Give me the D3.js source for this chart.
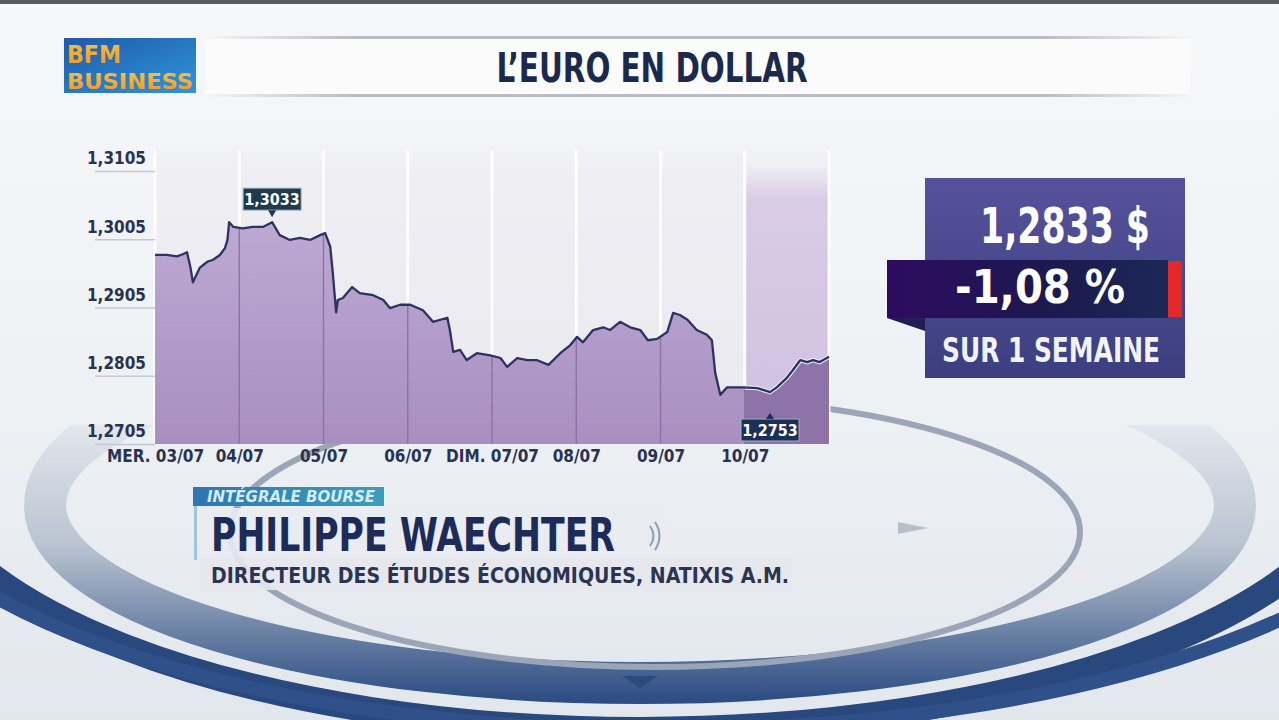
<!DOCTYPE html>
<html>
<head>
<meta charset="utf-8">
<script src="https://cdn.jsdelivr.net/npm/d3@7"></script>
<style>
body { margin: 0; background: #eef0f3; overflow: hidden; }
svg { display: block; }
.cond { font-family: "Liberation Sans Narrow", "DejaVu Sans Condensed", "Roboto Condensed", "Arial Narrow", Roboto, sans-serif; font-weight: bold; }
</style>
</head>
<body>
<div id="chart"></div>
<script>
var width = 1279,
    height = 720;

// EUR/USD over the week, position in days since Wed 03/07 00h
var dayPos = [0.00, 0.14, 0.26, 0.33, 0.38, 0.42, 0.45, 0.53, 0.58, 0.62, 0.69, 0.77, 0.83, 0.86, 0.88, 0.93,
  1.04, 1.16, 1.28, 1.39, 1.48, 1.60, 1.72, 1.84, 1.96, 2.02, 2.08, 2.11, 2.15, 2.17, 2.23, 2.34, 2.43,
  2.59, 2.71, 2.79, 2.91, 3.03, 3.18, 3.30, 3.47, 3.50, 3.54, 3.62, 3.70, 3.82, 3.98, 4.10, 4.18, 4.30,
  4.42, 4.53, 4.67, 4.81, 4.93, 5.01, 5.08, 5.20, 5.32, 5.40, 5.52, 5.64, 5.76, 5.85, 5.96, 6.08, 6.15,
  6.23, 6.32, 6.43, 6.55, 6.61, 6.65, 6.71, 6.79, 6.86, 6.98, 7.15, 7.30, 7.38, 7.50, 7.57, 7.66, 7.74,
  7.81, 7.89, 8.00];
var rate = [1.2982, 1.2982, 1.2980, 1.2983, 1.2986, 1.2964, 1.2942, 1.2963, 1.2968, 1.2972, 1.2975, 1.2982, 1.2992, 1.3004, 1.3030, 1.3023,
  1.3021, 1.3023, 1.3023, 1.3030, 1.3011, 1.3004, 1.3007, 1.3004, 1.3011, 1.3014, 1.2994, 1.2956, 1.2898, 1.2916, 1.2919, 1.2935, 1.2926,
  1.2923, 1.2916, 1.2904, 1.2909, 1.2909, 1.2901, 1.2884, 1.2890, 1.2872, 1.2840, 1.2843, 1.2828, 1.2838, 1.2835, 1.2831, 1.2818, 1.2831,
  1.2828, 1.2828, 1.2821, 1.2838, 1.2850, 1.2862, 1.2854, 1.2872, 1.2876, 1.2872, 1.2884, 1.2876, 1.2872, 1.2857, 1.2859, 1.2869, 1.2897,
  1.2894, 1.2887, 1.2872, 1.2865, 1.2857, 1.2809, 1.2777, 1.2788, 1.2788, 1.2788, 1.2787, 1.2781, 1.2788, 1.2802, 1.2813, 1.2828, 1.2825,
  1.2828, 1.2825, 1.2833];

var dayTicks = [0, 1, 2, 3, 4, 5, 6, 7];
var dayLabels = ["MER. 03/07", "04/07", "05/07", "06/07", "DIM. 07/07", "08/07", "09/07", "10/07"];
var rateTicks = [1.2705, 1.2805, 1.2905, 1.3005, 1.3105];

var highMark = [1.39, 1.3033];
var lowMark = [7.30, 1.2753];
var lastRate = 1.2833;
var weekChange = -1.08;

var fr = d3.formatLocale({decimal: ",", thousands: " ", grouping: [3], currency: ["", " $"], minus: "-"});
var fmt4 = fr.format(".4f");
var fmt2 = fr.format(".2f");

var svg = d3.select("#chart").append("svg")
    .attr("width", width)
    .attr("height", height);
var defs = svg.append("defs");

function grad(id, x2, y2, stops, user) {
  var g = defs.append("linearGradient").attr("id", id)
      .attr("x1", 0).attr("y1", 0).attr("x2", x2).attr("y2", y2);
  if (user) g.attr("gradientUnits", "userSpaceOnUse").attr("x1", user[0]).attr("y1", user[1]).attr("x2", user[2]).attr("y2", user[3]);
  stops.forEach(function(s) {
    g.append("stop").attr("offset", s[0]).attr("stop-color", s[1]).attr("stop-opacity", s[2] == null ? 1 : s[2]);
  });
}

grad("bgGrad", 0, 1, [[0, "#f6f7f9"], [0.55, "#eef1f4"], [1, "#e2e7ed"]]);
grad("ringGrad", 0, 1, [[0, "#e4e8ee"], [0.45, "#b9c3d1"], [1, "#2d4d84"]], [0, 420, 0, 700]);
grad("areaGrad", 0, 1, [[0, "#bda9d3"], [1, "#a88fc0"]], [0, 220, 0, 444]);
grad("bandGrad", 0, 1, [[0, "#dcd0e8", 0], [0.12, "#d9cce6"], [1, "#cfbfe0"]], [0, 165, 0, 444]);
grad("plotGrad", 0, 1, [[0, "#eeeef3", 0], [0.1, "#eeeef3"], [1, "#e9e9ef"]], [0, 140, 0, 444]);
grad("logoGrad", 1, 1, [[0, "#1f5aa8"], [1, "#2f95dc"]]);
grad("logoText", 0, 1, [[0, "#f7c440"], [1, "#f0922a"]]);
grad("panelGrad", 0, 1, [[0, "#55529b"], [1, "#3b3f7f"]]);
grad("stripGrad", 1, 0, [[0, "#2e0b60"], [0.6, "#1b1a4e"], [1, "#1c2858"]]);
grad("tagGrad", 1, 0, [[0, "#2c76b2"], [1, "#3c9fb8"]]);
grad("shadowLine", 1, 0, [[0, "#b9bcc2", 0], [0.15, "#b9bcc2"], [0.85, "#b9bcc2"], [1, "#b9bcc2", 0]]);

// background and decorative rings
svg.append("rect").attr("width", width).attr("height", height).attr("fill", "url(#bgGrad)");
svg.append("rect").attr("width", width).attr("height", 4).attr("fill", "#5a5c60");

defs.append("clipPath").attr("id", "lowClip").append("rect")
    .attr("x", 0).attr("y", 425).attr("width", width).attr("height", 300);
defs.append("clipPath").attr("id", "bottomClip").append("rect")
    .attr("x", 0).attr("y", 540).attr("width", width).attr("height", 200);

var deco = svg.append("g");
deco.append("ellipse").attr("clip-path", "url(#lowClip)")
    .attr("cx", 640).attr("cy", 505).attr("rx", 595).attr("ry", 178)
    .attr("fill", "none").attr("stroke", "url(#ringGrad)").attr("stroke-width", 42);
deco.append("ellipse")
    .attr("cx", 655).attr("cy", 532).attr("rx", 425).attr("ry", 135)
    .attr("fill", "none").attr("stroke", "#9aa6b8").attr("stroke-width", 6);
deco.append("ellipse").attr("clip-path", "url(#bottomClip)")
    .attr("cx", 640).attr("cy", 445).attr("rx", 730).attr("ry", 285)
    .attr("fill", "none").attr("stroke", "#29487e").attr("stroke-width", 26);
deco.append("ellipse").attr("clip-path", "url(#bottomClip)")
    .attr("cx", 660).attr("cy", 430).attr("rx", 800).attr("ry", 300)
    .attr("fill", "none").attr("stroke", "#2f5088").attr("stroke-width", 14);
deco.append("path")
    .attr("d", "M898,522 L928,528 L898,534 Z")
    .attr("fill", "#b7bfca");
deco.append("path")
    .attr("d", "M622,676 L658,676 L640,688 Z")
    .attr("fill", "#2b4a80");

// header
svg.append("rect").attr("x", 205).attr("y", 36).attr("width", 985).attr("height", 3).attr("fill", "url(#shadowLine)");
svg.append("rect").attr("x", 205).attr("y", 39).attr("width", 985).attr("height", 55).attr("fill", "#fbfbfc");
svg.append("rect").attr("x", 205).attr("y", 94).attr("width", 985).attr("height", 3).attr("fill", "url(#shadowLine)");
svg.append("text").attr("class", "cond")
    .attr("x", 652).attr("y", 82)
    .attr("text-anchor", "middle")
    .attr("font-size", 40)
    .attr("textLength", 311).attr("lengthAdjust", "spacingAndGlyphs")
    .attr("fill", "#1b2a4c")
    .text("L’EURO EN DOLLAR");

var logo = svg.append("g");
logo.append("rect").attr("x", 64).attr("y", 38).attr("width", 132).attr("height", 55).attr("fill", "url(#logoGrad)");
logo.append("text").attr("class", "cond").attr("x", 67).attr("y", 63)
    .attr("font-size", 25).attr("textLength", 54).attr("lengthAdjust", "spacingAndGlyphs")
    .attr("fill", "url(#logoText)").text("BFM");
logo.append("text").attr("class", "cond").attr("x", 67).attr("y", 89)
    .attr("font-size", 21).attr("textLength", 126).attr("lengthAdjust", "spacingAndGlyphs")
    .attr("fill", "url(#logoText)").text("BUSINESS");

// chart
var x = d3.scaleLinear().domain([0, 8]).range([155, 829]);
var y = d3.scaleLinear().domain([1.2705, 1.3105]).range([444, 171]);

var data = dayPos.map(function(d, i) { return {day: d, value: rate[i]}; });

var chart = svg.append("g");

chart.append("rect")
    .attr("x", x(0)).attr("y", 140)
    .attr("width", x(8) - x(0)).attr("height", y(1.2705) - 140)
    .attr("fill", "url(#plotGrad)");

chart.append("rect")
    .attr("x", x(7)).attr("y", 165)
    .attr("width", x(8) - x(7)).attr("height", y(1.2705) - 165)
    .attr("fill", "url(#bandGrad)");

chart.selectAll(".vgrid")
    .data(dayTicks.concat([8]))
  .enter().append("line")
    .attr("class", "vgrid")
    .attr("x1", function(d) { return x(d); })
    .attr("x2", function(d) { return x(d); })
    .attr("y1", 150).attr("y2", y(1.2705))
    .attr("stroke", "#ffffff").attr("stroke-width", 3).attr("stroke-opacity", 0.9);

var area = d3.area()
    .x(function(d) { return x(d.day); })
    .y0(y(1.2705))
    .y1(function(d) { return y(d.value); });

var line = d3.line()
    .x(function(d) { return x(d.day); })
    .y(function(d) { return y(d.value); });

defs.append("clipPath").attr("id", "areaClip").append("path").attr("d", area(data));
defs.append("clipPath").attr("id", "todayClip").append("rect")
    .attr("x", x(7)).attr("y", 0).attr("width", x(8) - x(7)).attr("height", height);

chart.append("path")
    .attr("d", area(data))
    .attr("fill", "url(#areaGrad)");

chart.append("g").attr("clip-path", "url(#areaClip)")
  .selectAll("line")
    .data(dayTicks.slice(1))
  .enter().append("line")
    .attr("x1", function(d) { return x(d); })
    .attr("x2", function(d) { return x(d); })
    .attr("y1", y(1.3105)).attr("y2", y(1.2705))
    .attr("stroke", "#8a70a4").attr("stroke-width", 1.3);

chart.append("path")
    .attr("clip-path", "url(#todayClip)")
    .attr("d", area(data))
    .attr("fill", "#8d73a7");

chart.append("path")
    .attr("clip-path", "url(#todayClip)")
    .attr("d", line(data))
    .attr("fill", "none")
    .attr("stroke", "#efe9f6").attr("stroke-width", 4.5);

chart.append("path")
    .attr("d", line(data))
    .attr("fill", "none")
    .attr("stroke", "#2c3262").attr("stroke-width", 2.3)
    .attr("stroke-linejoin", "round");

// axes
var yAxis = d3.axisLeft(y).tickValues(rateTicks).tickFormat(fmt4).tickSize(60).tickPadding(0);
var gy = chart.append("g").attr("transform", "translate(" + x(0) + ",0)").call(yAxis);
gy.select(".domain").remove();
gy.selectAll(".tick line").attr("stroke", "#c6c8cf").attr("stroke-width", 1.5);
gy.selectAll(".tick text")
    .attr("class", "cond")
    .attr("x", -9).attr("dy", "-0.42em")
    .attr("font-size", 17)
    .attr("fill", "#283252");

var xAxis = d3.axisBottom(x).tickValues(dayTicks)
    .tickFormat(function(d, i) { return dayLabels[i]; })
    .tickSize(0).tickPadding(6);
var gx = chart.append("g").attr("transform", "translate(0," + y(1.2705) + ")").call(xAxis);
gx.select(".domain").remove();
gx.selectAll(".tick text")
    .attr("class", "cond")
    .attr("font-size", 17)
    .attr("fill", "#283252");

// max / min annotations
function tag(pos, val, boxY, up, fill) {
  var cx = x(pos[0]), g = chart.append("g");
  var w = 58, h = 22;
  g.append("rect").attr("x", cx - w / 2).attr("y", boxY).attr("width", w).attr("height", h)
      .attr("fill", fill).attr("stroke", "#9fb6c4").attr("stroke-width", 1);
  if (up) {
    g.append("path").attr("d", "M" + (cx - 4) + "," + boxY + " L" + cx + "," + (boxY - 6) + " L" + (cx + 4) + "," + boxY + " Z").attr("fill", fill);
  } else {
    g.append("path").attr("d", "M" + (cx - 4) + "," + (boxY + h) + " L" + cx + "," + (boxY + h + 7) + " L" + (cx + 4) + "," + (boxY + h) + " Z").attr("fill", fill);
  }
  g.append("text").attr("class", "cond")
      .attr("x", cx).attr("y", boxY + 17)
      .attr("text-anchor", "middle")
      .attr("font-size", 16)
      .attr("fill", "#ffffff")
      .text(fmt4(val));
}
tag(highMark, highMark[1], y(highMark[1]) - 32, false, "#1e3a4c");
tag(lowMark, lowMark[1], 419, true, "#1d2f57");

// right panel
var panel = svg.append("g");
panel.append("rect").attr("x", 925).attr("y", 178).attr("width", 260).attr("height", 200).attr("fill", "url(#panelGrad)");
panel.append("path").attr("d", "M887,318 L925,318 L925,331 Z").attr("fill", "#241c55");
panel.append("rect").attr("x", 887).attr("y", 260).attr("width", 281).attr("height", 58).attr("fill", "url(#stripGrad)");
panel.append("rect").attr("x", 1168).attr("y", 261).attr("width", 14).attr("height", 56).attr("fill", "#e3282c");
panel.append("text").attr("class", "cond")
    .attr("x", 1065).attr("y", 243).attr("text-anchor", "middle")
    .attr("font-size", 50).attr("textLength", 170).attr("lengthAdjust", "spacingAndGlyphs")
    .attr("fill", "#ffffff").text(fr.format("$.4f")(lastRate));
panel.append("text").attr("class", "cond")
    .attr("x", 1040).attr("y", 303).attr("text-anchor", "middle")
    .attr("font-size", 46).attr("textLength", 170).attr("lengthAdjust", "spacingAndGlyphs")
    .attr("fill", "#ffffff").text(fmt2(weekChange) + " %");
panel.append("text").attr("class", "cond")
    .attr("x", 1051).attr("y", 362).attr("text-anchor", "middle")
    .attr("font-size", 33).attr("textLength", 218).attr("lengthAdjust", "spacingAndGlyphs")
    .attr("fill", "#f2f2f8").text("SUR 1 SEMAINE");

// guest caption
var cap = svg.append("g");
cap.append("rect").attr("x", 200).attr("y", 508).attr("width", 466).attr("height", 50).attr("fill", "#e9ebef").attr("opacity", 0.9);
cap.append("rect").attr("x", 200).attr("y", 558).attr("width", 592).attr("height", 32).attr("fill", "#e6e8ec").attr("opacity", 0.9);
cap.append("rect").attr("x", 194).attr("y", 505).attr("width", 3).attr("height", 55).attr("fill", "#9cc6de");
cap.append("rect").attr("x", 193).attr("y", 487).attr("width", 191).attr("height", 19).attr("fill", "url(#tagGrad)");
cap.append("text").attr("class", "cond")
    .attr("x", 207).attr("y", 502)
    .attr("font-size", 15).attr("font-style", "italic").attr("font-weight", "normal")
    .attr("textLength", 168).attr("lengthAdjust", "spacingAndGlyphs")
    .attr("fill", "#d4ebf7").text("INTÉGRALE BOURSE");
cap.append("text").attr("class", "cond")
    .attr("x", 211).attr("y", 551)
    .attr("font-size", 46).attr("textLength", 404).attr("lengthAdjust", "spacingAndGlyphs")
    .attr("fill", "#1c2b57").text("PHILIPPE WAECHTER");
cap.append("path").attr("d", "M650,526 Q657,536 650,546").attr("fill", "none").attr("stroke", "#8d9cb6").attr("stroke-width", 2);
cap.append("path").attr("d", "M655,522 Q664,536 655,550").attr("fill", "none").attr("stroke", "#8d9cb6").attr("stroke-width", 2);
cap.append("text").attr("class", "cond")
    .attr("x", 211).attr("y", 583)
    .attr("font-size", 22).attr("textLength", 578).attr("lengthAdjust", "spacingAndGlyphs")
    .attr("fill", "#2b3553").text("DIRECTEUR DES ÉTUDES ÉCONOMIQUES, NATIXIS A.M.");
</script>
</body>
</html>
